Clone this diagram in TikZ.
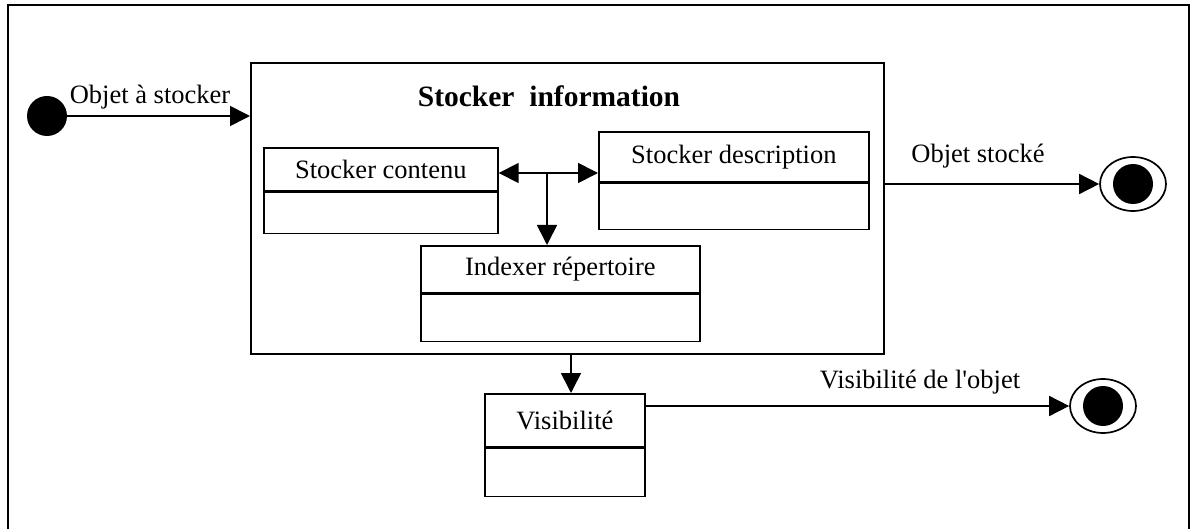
\documentclass[tikz,border=0pt]{standalone}
\usepackage{fontspec}
\setmainfont{Liberation Serif}
\usetikzlibrary{arrows.meta,shapes.geometric}
\begin{document}
\begin{tikzpicture}[x=1pt,y=-1pt,
  lw/.style={line width=1.7pt},
  hdr/.style={draw, lw, anchor=north west, inner sep=0pt, font=\fontsize{26.5}{30}\selectfont},
  bodybox/.style={draw, lw, anchor=north west, inner sep=0pt},
  lbl/.style={font=\fontsize{26.5}{30}\selectfont, inner sep=0pt},
  arr/.style={lw, -{Triangle[length=20pt,width=20pt]}},
  arrtwo/.style={lw, {Triangle[length=20pt,width=20pt]}-{Triangle[length=20pt,width=20pt]}}]
\useasboundingbox (0,0) rectangle (1191,529);
% outer frame
\draw[line width=2.6pt] (8,529) -- (8,5) -- (1189,5) -- (1189,529);
% composite state
\node[draw, lw, anchor=north west, minimum width=633pt, minimum height=291pt, inner sep=0pt] (comp) at (250,62) {};
\node[font=\fontsize{29.5}{32}\bfseries\selectfont, inner sep=0pt] (title) at (549,96) {Stocker\ \ information};
% initial state
\node[circle, fill=black, minimum size=40pt, inner sep=0pt] (init) at (47,116) {};
% sub states
\node[hdr, minimum width=234pt, minimum height=43pt] (cont) at (263,147) {Stocker contenu};
\node[bodybox, minimum width=234pt, minimum height=41pt] (contb) at (cont.south west) {};
\node[hdr, minimum width=270pt, minimum height=50pt] (desc) at (598,131) {Stocker description};
\node[bodybox, minimum width=270pt, minimum height=46pt] (descb) at (desc.south west) {};
\node[hdr, minimum width=279pt, minimum height=47pt] (idx) at (420,245) {Indexer r\'epertoire};
\node[bodybox, minimum width=279pt, minimum height=47pt] (idxb) at (idx.south west) {};
\node[hdr, minimum width=160pt, minimum height=53pt] (vis) at (484,393) {Visibilit\'e};
\node[bodybox, minimum width=160pt, minimum height=48pt] (visb) at (vis.south west) {};
% final states
\node[draw, lw, ellipse, minimum width=66pt, minimum height=54pt, inner sep=0pt] (fa) at (1133,184) {};
\node[circle, fill=black, minimum size=40pt, inner sep=0pt] (fadot) at (fa) {};
\node[draw, lw, ellipse, minimum width=66pt, minimum height=54pt, inner sep=0pt] (fb) at (1103,406) {};
\node[circle, fill=black, minimum size=40pt, inner sep=0pt] (fbdot) at (fb) {};
% connectors
\draw[arr] (init.east) -- (init.east -| comp.west);
\node[lbl] (l1) at (150,97) {Objet \`a stocker};
\coordinate (j) at (547,173);
\draw[arrtwo] (j -| cont.east) -- (j -| desc.west);
\draw[arr] (j) -- (j |- idx.north);
\coordinate (v) at (571,0);
\draw[arr] (v |- comp.south) -- (v |- vis.north);
\draw[arr] (fa.west -| comp.east) -- (fa.west);
\node[lbl] (l2) at (978,156) {Objet stock\'e};
\draw[arr] (fb.west -| vis.east) -- (fb.west);
\node[lbl] (l3) at (920,382) {Visibilit\'e de l\textquotesingle objet};
\end{tikzpicture}
\end{document}
